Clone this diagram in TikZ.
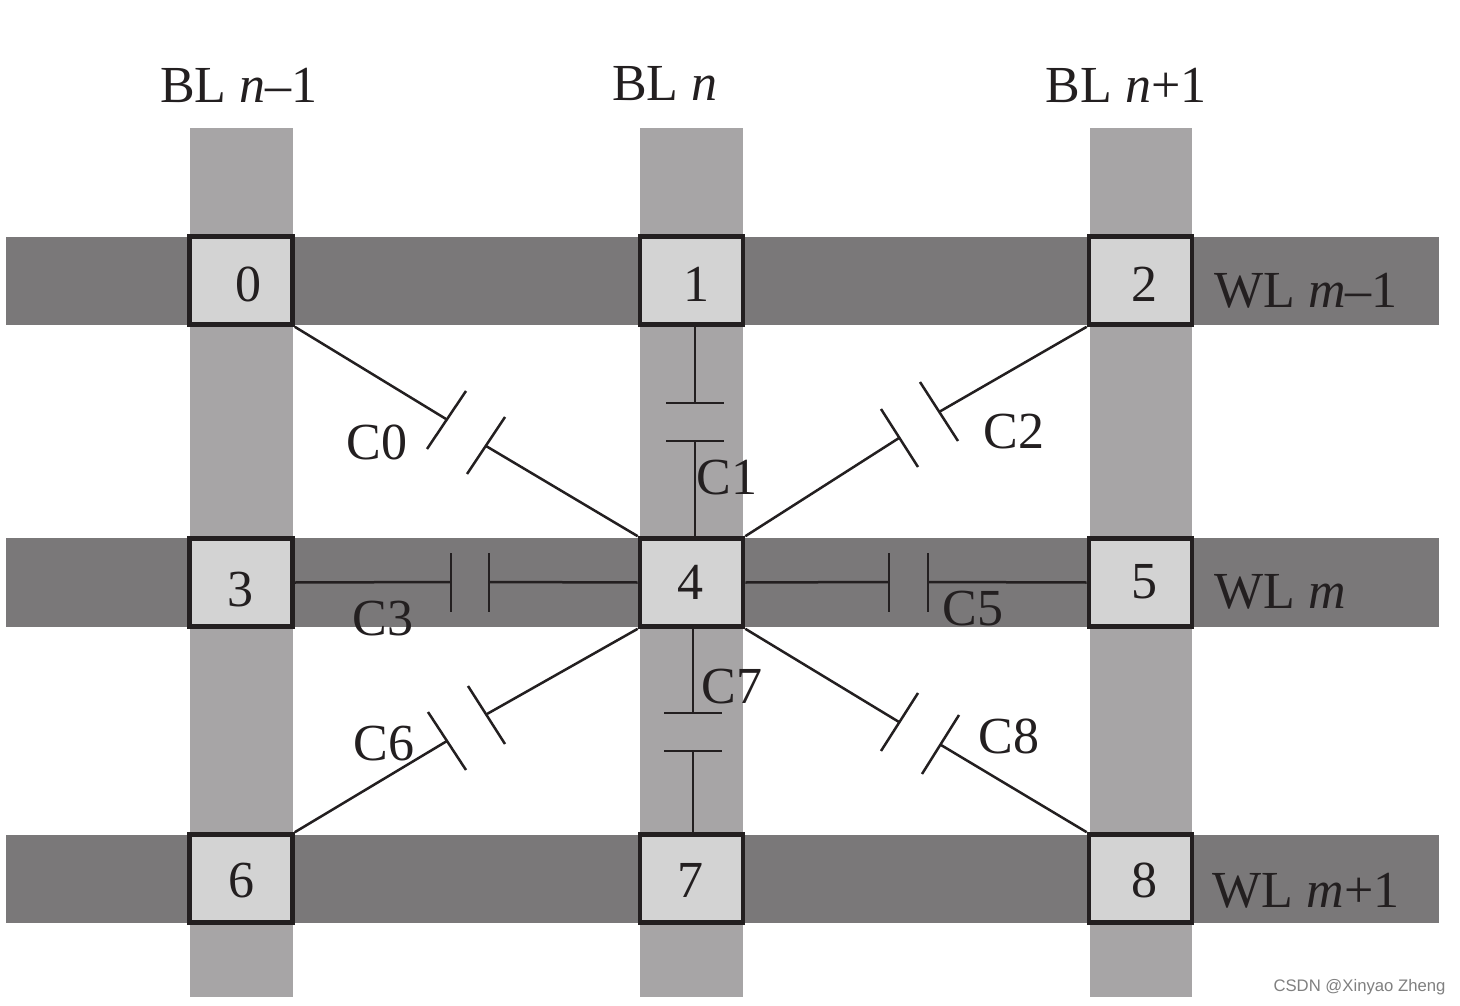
\documentclass[tikz,border=0pt]{standalone}
\usepackage{fontspec}
\setmainfont{Liberation Serif}
\newfontfamily\wmfont{Liberation Sans}
\definecolor{wlgray}{HTML}{7A7879}
\definecolor{blgray}{HTML}{A7A5A6}
\definecolor{cellgray}{HTML}{D3D3D3}
\definecolor{inkc}{HTML}{231F20}
\tikzset{
  wl/.style={fill=wlgray,draw=none},
  bl/.style={fill=blgray,draw=none},
  cellbox/.style={draw=inkc,line width=4.6pt,fill=cellgray,minimum width=103pt,minimum height=88pt,inner sep=0pt,anchor=center},
  txt/.style={font=\fontsize{52}{58}\selectfont,text=inkc,inner sep=0pt,anchor=center},
  wire/.style={draw=inkc,line width=2.5pt},
  plate/.style={draw=inkc,line width=2.5pt}
}
\newcommand{\cellnode}[5]{%
  \node[cellbox] (n#1) at (#2,#3) {};
  \node[txt] (t#1) at (#4,#5) {#1};
}
\newcommand{\capacitor}[8]{% name, wire-in point a, plate1 ends, plate2 ends, wire-out point
  \coordinate (#1a1) at #3; \coordinate (#1a2) at #4;
  \coordinate (#1b1) at #5; \coordinate (#1b2) at #6;
  \coordinate (#1wa) at #7; \coordinate (#1wb) at #8;
  \draw[plate] (#1a1) -- (#1a2);
  \draw[plate] (#1b1) -- (#1b2);
  \draw[wire] #2 -- (#1wa);
}
\begin{document}
\begin{tikzpicture}[x=1pt,y=-1pt]
\useasboundingbox (0,0) rectangle (1460,1006);
\fill[white] (0,0) rectangle (1460,1006);
% bit lines
\fill[bl] (190,128) rectangle (293,997);
\fill[bl] (640,128) rectangle (743,997);
\fill[bl] (1090,128) rectangle (1192,997);
% word lines
\fill[wl] (6,237) rectangle (1439,325);
\fill[wl] (6,538) rectangle (1439,627);
\fill[wl] (6,835) rectangle (1439,923);
% capacitors (drawn under the cells)
\cellnode{0}{241}{280.5}{248}{284}
\cellnode{1}{691.5}{280.5}{696}{284}
\cellnode{2}{1140.5}{280.5}{1144}{284}
\cellnode{3}{241}{582.5}{240}{590}
\cellnode{4}{691.5}{582.5}{690}{582}
\cellnode{5}{1140.5}{582.5}{1144}{582}
\cellnode{6}{241}{878.5}{241}{881}
\cellnode{7}{691.5}{878.5}{690}{880}
\cellnode{8}{1140.5}{878.5}{1144}{880}
\capacitor{c0}{(n0.south east)}{(466,391)}{(427,449)}{(505,417)}{(467,474)}{(446,419)}{(486,446)}
\draw[wire] (c0wb) -- (n4.north west);
\capacitor{c1}{(695,325)}{(666,403)}{(724,403)}{(666,441)}{(724,441)}{(695,403)}{(695,441)}
\draw[wire] (c1wb) -- (695,538);
\capacitor{c2}{(n2.south west)}{(920,382)}{(958,441)}{(881,409)}{(918,467)}{(939,412)}{(899,438)}
\draw[wire] (c2wb) -- (n4.north east);
\capacitor{c3}{(n3.east)}{(451,553)}{(451,612)}{(489,553)}{(489,612)}{(451,582)}{(489,582)}
\draw[wire] (c3wb) -- (n4.west);
\capacitor{c5}{(n4.east)}{(889,553)}{(889,612)}{(928,553)}{(928,612)}{(889,582)}{(928,582)}
\draw[wire] (c5wb) -- (n5.west);
\capacitor{c6}{(n6.north east)}{(428,712)}{(466,770)}{(468,686)}{(505,744)}{(447,741)}{(487,714)}
\draw[wire] (c6wb) -- (n4.south west);
\capacitor{c7}{(693,627)}{(664,713)}{(722,713)}{(664,751)}{(722,751)}{(693,713)}{(693,751)}
\draw[wire] (c7wb) -- (693,834);
\capacitor{c8}{(n4.south east)}{(918,693)}{(881,751)}{(959,715)}{(922,774)}{(899,722)}{(941,745)}
\draw[wire] (c8wb) -- (n8.north west);
% capacitor labels
\node[txt] (lc0) at (377,442) {C0};
\node[txt] (lc1) at (727,478) {C1};
\node[txt] (lc2) at (1014,432) {C2};
\node[txt] (lc3) at (383,619) {C3};
\node[txt] (lc5) at (973,609) {C5};
\node[txt] (lc6) at (384,744) {C6};
\node[txt] (lc7) at (732,687) {C7};
\node[txt] (lc8) at (1009,736) {C8};
% line labels
\node[txt] (bl0) at (239,85) {BL \textit{n}–1};
\node[txt] (bl1) at (665,84) {BL \textit{n}};
\node[txt] (bl2) at (1126,85) {BL \textit{n}+1};
\node[txt] (wl0) at (1306,291) {WL \textit{m}–1};
\node[txt] (wl1) at (1280,592) {WL \textit{m}};
\node[txt] (wl2) at (1306,891) {WL \textit{m}+1};
% watermark
\node[inner sep=0pt,text=gray,font=\wmfont\fontsize{16.7}{20}\selectfont] (wm) at (1359.5,987) {CSDN @Xinyao Zheng};
\end{tikzpicture}
\end{document}
